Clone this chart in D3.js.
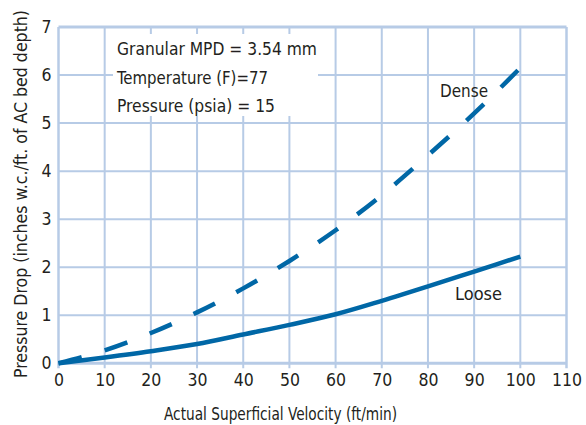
<!DOCTYPE html>
<html><head><meta charset="utf-8">
<script src="https://cdn.jsdelivr.net/npm/d3@7"></script>
<style>body{margin:0;background:#fff}</style>
</head><body>
<svg id="c" width="586" height="425"></svg>
<script>
const velocity = [0,10,20,30,40,50,60,70,80,90,100];
const dense = [0,0.27,0.63,1.06,1.56,2.13,2.77,3.5,4.33,5.2,6.15];
const loose = [0,0.12,0.25,0.40,0.60,0.80,1.02,1.30,1.60,1.91,2.22];
const xTicks = [0,10,20,30,40,50,60,70,80,90,100,110];
const yTicks = [0,1,2,3,4,5,6,7];
const notes = ["Granular MPD = 3.54 mm","Temperature (F)=77","Pressure (psia) = 15"];
const noteWidths = [200,151,158];

const FONT = "'DejaVu Sans Condensed','Liberation Sans Narrow',sans-serif";
const BLUE = "#0067a6", GRID = "#b7cbe6", TXT = "#231f20";
const svg = d3.select("#c");
const x = d3.scaleLinear().domain([0,110]).range([58.5,566.5]);
const y = d3.scaleLinear().domain([0,7]).range([363.3,27]);

// grid
svg.append("g").selectAll("line").data(xTicks).join("line")
  .attr("x1",d=>x(d)).attr("x2",d=>x(d)).attr("y1",y(7)).attr("y2",y(0)+5)
  .attr("stroke",GRID).attr("stroke-width",d=>d===0||d===110?2.5:2);
svg.append("g").selectAll("line").data(yTicks).join("line")
  .attr("x1",x(0)).attr("x2",x(110)).attr("y1",d=>y(d)).attr("y2",d=>y(d))
  .attr("stroke",GRID).attr("stroke-width",d=>d===0||d===7?3:2);

// annotation box
svg.append("rect").attr("x",113).attr("y",34).attr("width",205).attr("height",82).attr("fill","#fff");
svg.append("g").selectAll("text").data(notes).join("text")
  .attr("x",117).attr("y",(d,i)=>55+i*28.5)
  .attr("textLength",(d,i)=>noteWidths[i]).attr("lengthAdjust","spacingAndGlyphs")
  .attr("font-family",FONT).attr("font-size",18).attr("fill",TXT).text(d=>d);

// axes labels
const xa = d3.axisBottom(x).tickValues(xTicks).tickSize(0).tickPadding(10).tickFormat(d3.format("d"));
const gx = svg.append("g").attr("transform",`translate(0,${y(0)})`).call(xa);
gx.select(".domain").remove();
gx.selectAll("text").attr("font-family",FONT).attr("font-size",17.5).attr("fill",TXT);
const ya = d3.axisLeft(y).tickValues(yTicks).tickSize(0).tickPadding(7).tickFormat(d3.format("d"));
const gy = svg.append("g").attr("transform",`translate(${x(0)},0)`).call(ya);
gy.select(".domain").remove();
gy.selectAll("text").attr("font-family",FONT).attr("font-size",17.5).attr("fill",TXT);

svg.append("text").attr("x",280.5).attr("y",420).attr("text-anchor","middle")
  .attr("textLength",233).attr("lengthAdjust","spacingAndGlyphs")
  .attr("font-family",FONT).attr("font-size",18).attr("fill",TXT)
  .text("Actual Superficial Velocity (ft/min)");
svg.append("text").attr("transform","translate(26.5,194) rotate(-90)").attr("text-anchor","middle")
  .attr("textLength",368).attr("lengthAdjust","spacingAndGlyphs")
  .attr("font-family",FONT).attr("font-size",18).attr("fill",TXT)
  .text("Pressure Drop (inches w.c./ft. of AC bed depth)");

// lines
const line = d3.line().x((d,i)=>x(velocity[i])).y(d=>y(d)).curve(d3.curveMonotoneX);
svg.append("path").attr("d",line(dense)).attr("fill","none").attr("stroke",BLUE)
  .attr("stroke-width",4.5).attr("stroke-dasharray","24,24");
svg.append("path").attr("d",line(loose)).attr("fill","none").attr("stroke",BLUE)
  .attr("stroke-width",4.5);

svg.append("text").attr("x",440).attr("y",97).attr("textLength",48).attr("lengthAdjust","spacingAndGlyphs")
  .attr("font-family",FONT).attr("font-size",18).attr("fill",TXT).text("Dense");
svg.append("text").attr("x",455).attr("y",300).attr("textLength",47).attr("lengthAdjust","spacingAndGlyphs")
  .attr("font-family",FONT).attr("font-size",18).attr("fill",TXT).text("Loose");
</script>
</body></html>
